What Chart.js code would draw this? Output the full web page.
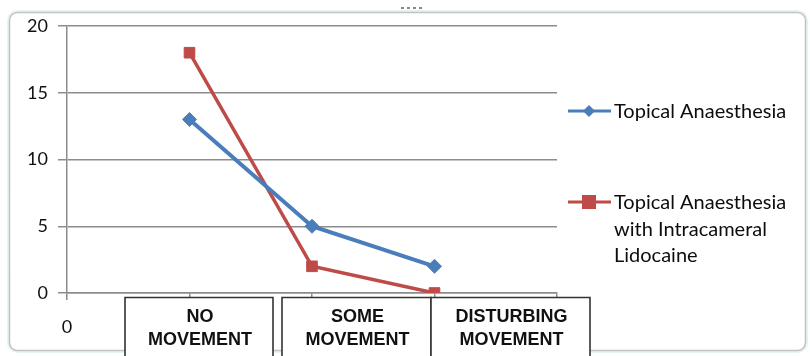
<!DOCTYPE html>
<html>
<head>
<meta charset="utf-8">
<style>
  html, body { margin: 0; padding: 0; background: #ffffff; }
  #wrap { width: 810px; height: 356px; position: relative; }
</style>
<script src="https://cdn.jsdelivr.net/npm/chart.js@4/dist/chart.umd.min.js"></script>
</head>
<body>
<div id="wrap"><canvas id="c" width="810" height="356"></canvas></div>
<script>
// Axis positions: the first slot carries the "0" label, the last one is empty
const positions = ['0', 'NO MOVEMENT', 'SOME MOVEMENT', 'DISTURBING MOVEMENT', ''];
// Categories shown in the boxed table under the axis
const categories = [['NO', 'MOVEMENT'], ['SOME', 'MOVEMENT'], ['DISTURBING', 'MOVEMENT']];
const seriesNames = [
  ['Topical Anaesthesia'],
  ['Topical Anaesthesia', 'with Intracameral', 'Lidocaine']
];
const topical = [null, 13, 5, 2, null];
const topicalLidocaine = [null, 18, 2, 0, null];
const yTicks = [0, 5, 10, 15, 20];

const BLUE = '#4a7ebb';
const RED = '#be4b48';

// Outer rounded frame with the small resize grips
const framePlugin = {
  id: 'frame',
  beforeDraw(chart) {
    const ctx = chart.ctx;
    ctx.save();
    ctx.fillStyle = '#ffffff';
    ctx.fillRect(0, 0, chart.width, chart.height);
    ctx.strokeStyle = '#e6f4f6';
    ctx.lineWidth = 3;
    ctx.beginPath();
    ctx.roundRect(8.5, 11.5, 798, 340, 9);
    ctx.stroke();
    ctx.strokeStyle = '#c3c3c3';
    ctx.lineWidth = 1.5;
    ctx.beginPath();
    ctx.roundRect(9.5, 12.5, 796, 338, 8);
    ctx.stroke();
    ctx.fillStyle = '#8a8a8a';
    for (let i = 0; i < 4; i++) {
      ctx.fillRect(401 + i * 6, 7, 3, 2);
      ctx.fillRect(401 + i * 6, 353, 3, 2);
    }
    ctx.restore();
  }
};

// Boxed category table under the x axis
const tablePlugin = {
  id: 'catTable',
  afterDraw(chart) {
    const ctx = chart.ctx;
    const cells = [[125, 273], [282, 431], [431, 590]];
    const top = 297.5;
    ctx.save();
    ctx.fillStyle = '#ffffff';
    ctx.strokeStyle = '#333333';
    ctx.lineWidth = 1.6;
    cells.forEach(([l, r]) => {
      ctx.fillRect(l, top, r - l, 60);
      ctx.beginPath();
      ctx.moveTo(l, 360);
      ctx.lineTo(l, top);
      ctx.lineTo(r, top);
      ctx.lineTo(r, 360);
      ctx.stroke();
    });
    ctx.fillStyle = '#111111';
    ctx.font = 'bold 18px "Liberation Sans", Arial, sans-serif';
    ctx.textAlign = 'center';
    ctx.textBaseline = 'middle';
    cells.forEach(([l, r], i) => {
      const cx = (l + r) / 2 + 1;
      categories[i].forEach((line, k) => ctx.fillText(line, cx, 317 + k * 23.5));
    });
    ctx.restore();
  }
};

// Legend on the right, with wrapped series names
const legendPlugin = {
  id: 'sideLegend',
  afterDraw(chart) {
    const ctx = chart.ctx;
    const rows = [111, 202];
    ctx.save();
    chart.data.datasets.forEach((ds, i) => {
      const y = rows[i];
      ctx.strokeStyle = ds.borderColor;
      ctx.lineWidth = 3;
      ctx.beginPath();
      ctx.moveTo(568, y);
      ctx.lineTo(611, y);
      ctx.stroke();
      ctx.fillStyle = ds.pointBackgroundColor;
      if (ds.pointStyle === 'rectRot') {
        ctx.beginPath();
        ctx.moveTo(589, y - 6);
        ctx.lineTo(595, y);
        ctx.lineTo(589, y + 6);
        ctx.lineTo(583, y);
        ctx.closePath();
        ctx.fill();
      } else {
        ctx.fillRect(582, y - 7, 14, 14);
      }
      ctx.fillStyle = '#0d0d0d';
      ctx.font = '20px Lato, "Liberation Sans", sans-serif';
      ctx.textAlign = 'left';
      ctx.textBaseline = 'middle';
      seriesNames[i].forEach((line, k) => ctx.fillText(line, 614, y + 1 + k * 26.5));
    });
    ctx.restore();
  }
};

new Chart(document.getElementById('c'), {
  type: 'line',
  data: {
    labels: positions,
    datasets: [
      {
        label: seriesNames[0].join(' '),
        data: topical,
        borderColor: BLUE,
        backgroundColor: BLUE,
        pointBackgroundColor: BLUE,
        pointBorderColor: BLUE,
        borderWidth: 4,
        pointStyle: 'rectRot',
        pointRadius: 7,
        pointBorderWidth: 1,
        tension: 0,
        spanGaps: false
      },
      {
        label: seriesNames[1].join(' '),
        data: topicalLidocaine,
        borderColor: RED,
        backgroundColor: RED,
        pointBackgroundColor: RED,
        pointBorderColor: RED,
        borderWidth: 3.5,
        pointStyle: 'rect',
        pointRadius: 7.5,
        pointBorderWidth: 1,
        tension: 0,
        spanGaps: false
      }
    ]
  },
  options: {
    responsive: false,
    animation: false,
    devicePixelRatio: 1,
    layout: { padding: { left: 10, top: 26, right: 253, bottom: 0 } },
    plugins: {
      legend: { display: false },
      tooltip: { enabled: false }
    },
    scales: {
      x: {
        type: 'category',
        offset: false,
        afterFit(s) { s.height = 63; },
        border: { display: true, color: '#8c8c8c', width: 1.5 },
        grid: {
          display: true,
          drawOnChartArea: false,
          drawTicks: true,
          tickLength: 7,
          color: '#8c8c8c',
          lineWidth: 1.5
        },
        ticks: {
          autoSkip: false,
          maxRotation: 0,
          padding: 16,
          color: '#111111',
          font: { family: 'Lato, "Liberation Sans", sans-serif', size: 18 },
          callback(v, i) { return i === 0 ? positions[0] : ''; }
        }
      },
      y: {
        min: 0,
        max: 20,
        afterFit(s) { s.width = 57; },
        afterBuildTicks(s) { s.ticks = yTicks.map(v => ({ value: v })); },
        border: { display: true, color: '#8c8c8c', width: 1.5 },
        grid: {
          color: '#8c8c8c',
          lineWidth: 1.5,
          tickLength: 9
        },
        ticks: {
          padding: 10,
          color: '#111111',
          font: { family: 'Lato, "Liberation Sans", sans-serif', size: 18 }
        }
      }
    }
  },
  plugins: [framePlugin, tablePlugin, legendPlugin]
});
</script>
</body>
</html>
